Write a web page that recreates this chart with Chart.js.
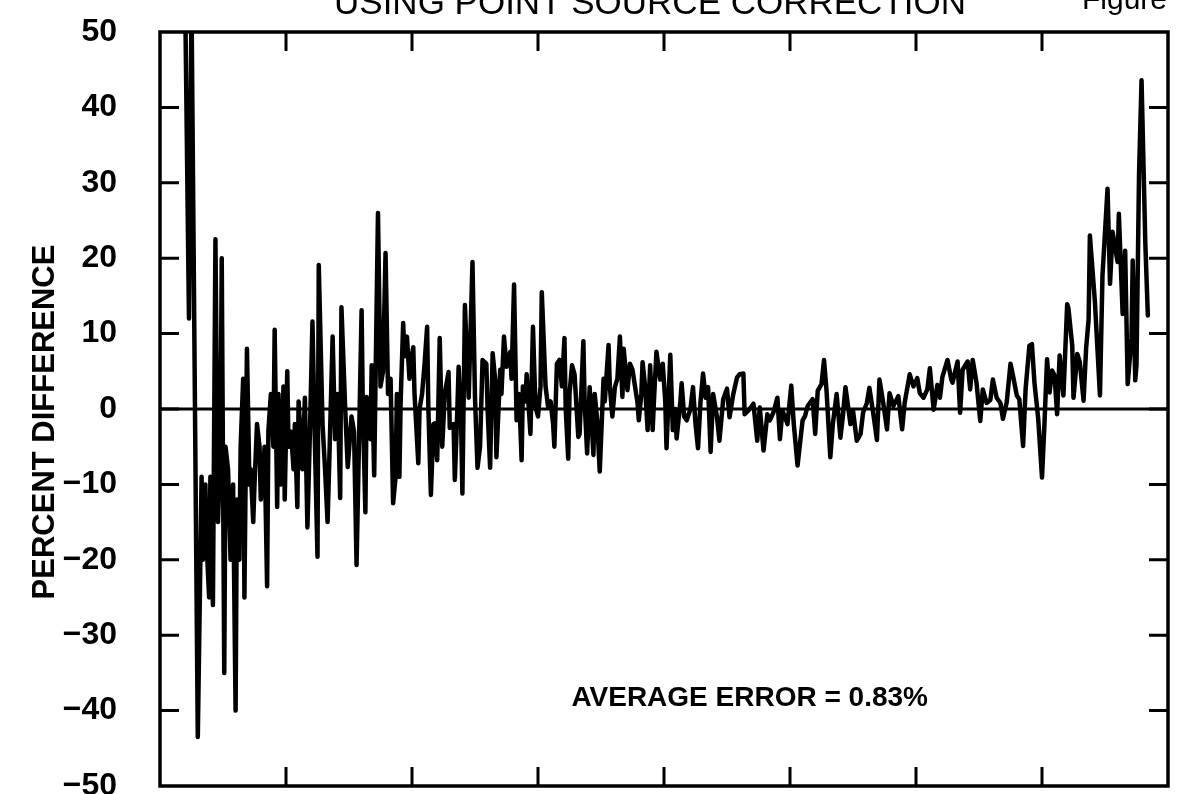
<!DOCTYPE html>
<html>
<head>
<meta charset="utf-8">
<script src="https://cdn.jsdelivr.net/npm/chart.js@4"></script>
<style>
  body { margin: 0; background: #fff; }
  canvas { display: block; }
</style>
</head>
<body>
<canvas id="chart" width="1178" height="794"></canvas>
<script>
// sample position along the (unlabelled) x axis, 0..800
const xPos = [
  20,23,25,30,33,34,36,37,39,40,42,44,46,48,49,51,52,54,56,58,60,61,63,64,66,67,69,71,72,74,75,77,79,80,82,83,85,86,88,90,91,93,94,96,98,99,101,102,104,106,107,109,110,
  113,115,117,119,121,123,125,126,129,131,133,135,137,139,141,143,144,147,149,152,154,156,160,161,163,164,167,168,170,171,173,175,177,179,181,183,185,187,188,190,191,193,194,196,198,199,201,202,205,206,208,210,212,213,215,217,218,220,222,
  224,226,229,230,233,234,236,237,239,240,242,244,245,248,250,252,254,256,259,260,262,264,266,267,270,271,273,275,278,279,281,283,285,287,288,290,291,294,296,298,300,302,303,306,308,310,312,313,315,317,319,321,322,324,325,327,329,332,333,336,
  337,339,341,344,345,347,349,352,353,356,357,359,361,363,365,367,368,371,373,375,377,379,380,382,383,385,387,389,391,392,394,397,399,401,402,405,407,409,410,413,414,416,418,421,423,425,427,429,431,433,435,437,439,442,
  444,447,450,452,455,458,460,463,464,467,471,474,476,479,482,484,487,490,492,494,498,501,503,506,510,512,514,518,520,522,525,527,529,532,534,537,540,542,544,548,550,553,556,
  558,561,563,566,569,571,574,577,579,582,586,589,591,595,598,601,603,606,609,611,614,617,619,621,625,628,629,633,635,637,641,643,645,648,651,653,656,659,661,664,667,
  669,672,675,677,680,682,685,687,690,692,694,697,700,702,704,706,708,710,712,714,717,720,721,724,725,728,730,733,735,737,738,742,746,748,752,754,756,760,761,764,766,768,771,772,774,775,777,779,782,784
];

// percent difference
const pctDiff = [
  54,12,54,-43.5,-9,-20,-10,-18,-25,-9,-26,22.5,-15,-5,20,-35,-5,-8,-20,-10,-40,-12,-20,-5,4,-25,8,-10,-8,-15,-10,-2,-5,-12,-8,-5,-23.5,-3,2,-5,10.5,-13,2,-10,3,-12,5,-5,-3,-8,-2,-13,1,
  -8,1.5,-15.7,-3,11.6,-5,-19.6,19.1,-2,-8,-15,-3,9.6,-4,2,-11.8,13.5,0,-7.7,-1,-3,-20.7,13.1,0,-13.7,1.6,-4,5.8,-8.8,3,26,3,5,20.7,2,4,-12.5,-9,2,-9,1,11.4,7,9.6,4,6,8.2,2,-7.2,0,2,6,10.9,0,-11.4,-2,-1.9,-6.8,9.4,
  -5,2,4.9,-2.5,-2,-9.4,0,5.6,-2,-11.2,13.8,5,1.5,19.5,1.5,-7.8,-5,6.5,6,0,-7.8,7.4,3.9,-6.4,5.2,2,9.6,5.6,7.6,4,16.5,-1.5,2,-6.8,3,1,4.6,-3.3,10.9,0.3,-1,3,15.5,3,0.3,1,-2,-5,6,6.5,3,9.4,0,-6.6,2,5.8,4.6,-3.7,-3.3,9,
  1,-5.9,2.9,-6.1,2,-1.5,-8.3,4,1,8.5,3,-1,2.9,4,9.6,1.6,8,2.5,6,5.2,3,0.8,-1.5,2,6.2,3,-2.8,5.8,-2.8,1,7.6,3.9,6,1,-5.2,7.2,-2.8,0,-3.9,1,3.4,-1,-1.5,0,2.9,-2,-5.2,1,4.7,1.5,2.9,-5.7,2,-1,
  -4.2,1.3,2.7,-1.1,2,4.2,4.6,4.7,-0.7,-0.2,0.7,-4.2,0.2,-5.5,-0.7,-1.5,-0.4,1.5,-4,-0.2,-2,3.1,-2,-7.5,-1.5,-0.9,0.4,1.3,-3.3,2.4,3.3,6.5,2.4,-6.4,-2,2,-3.8,-0.9,2.9,-2,-0.2,-4.2,-3.3,
  -0.5,0.8,2.8,-0.5,-4.1,3.9,0.8,-2.7,2.1,0.4,1.7,-2.7,0.8,4.6,3,4.1,2.1,1.5,2.6,5.4,-0.1,3.2,1.5,4.3,6.5,3.9,3.5,6.3,-0.5,5.2,6.3,2.6,6.5,3.5,-1.6,2.6,0.8,1.2,3.9,1.5,0.8,
  -1.3,0.9,6,4.4,1.8,1.3,-4.9,2.7,8.4,8.6,3.5,-1.3,-9.1,-1.8,6.6,2.2,5.1,4.4,-0.7,7.1,1.8,13.9,13.3,8.4,1.5,7.3,6.2,1.1,8,11.9,23,14.2,1.8,17.7,29.2,16.6,23.5,19.5,25.9,12.6,21,3.3,9.3,19.7,3.8,5.8,31,43.6,22,12.4
];

const yTicks = [-50, -40, -30, -20, -10, 0, 10, 20, 30, 40, 50];
const xTicks = [100, 200, 300, 400, 500, 600, 700];

const titleText = "USING POINT SOURCE CORRECTION";
const figText = "Figure";
const yTitle = "PERCENT DIFFERENCE";
const note = "AVERAGE ERROR = 0.83%";

const points = xPos.map((x, i) => ({ x: x, y: pctDiff[i] }));

// frame, inward ticks, zero line and the texts
const decor = {
  id: "decor",
  afterDraw(chart) {
    const ctx = chart.ctx;
    const a = chart.chartArea;
    const xs = chart.scales.x;
    const ys = chart.scales.y;
    ctx.save();
    ctx.strokeStyle = "#000";
    ctx.lineWidth = 3.5;
    ctx.lineCap = "butt";
    ctx.strokeRect(a.left, a.top, a.right - a.left, a.bottom - a.top);

    const y0 = ys.getPixelForValue(0);
    ctx.lineWidth = 3;
    ctx.beginPath();
    ctx.moveTo(a.left, y0);
    ctx.lineTo(a.right, y0);
    ctx.stroke();

    ctx.beginPath();
    yTicks.forEach(v => {
      if (v === -50 || v === 50) return;
      const py = ys.getPixelForValue(v);
      ctx.moveTo(a.left, py); ctx.lineTo(a.left + 19, py);
      ctx.moveTo(a.right, py); ctx.lineTo(a.right - 19, py);
    });
    xTicks.forEach(v => {
      const px = xs.getPixelForValue(v);
      ctx.moveTo(px, a.bottom); ctx.lineTo(px, a.bottom - 19);
      ctx.moveTo(px, a.top); ctx.lineTo(px, a.top + 19);
    });
    ctx.stroke();

    ctx.fillStyle = "#000";
    ctx.font = "35px 'Liberation Sans'";
    ctx.textAlign = "center";
    ctx.textBaseline = "alphabetic";
    ctx.fillText(titleText, 650, 14);
    ctx.font = "30px 'Liberation Sans'";
    ctx.textAlign = "left";
    ctx.fillText(figText, 1082, 9);

    ctx.font = "bold 28px 'Liberation Sans'";
    ctx.textAlign = "center";
    ctx.textBaseline = "middle";
    ctx.fillText(note, xs.getPixelForValue(468), ys.getPixelForValue(-38.4));

    ctx.translate(45, 422);
    ctx.rotate(-Math.PI / 2);
    ctx.font = "bold 31px 'Liberation Sans'";
    ctx.fillText(yTitle, 0, 0);
    ctx.restore();
  }
};

const config = {
  type: "line",
  data: {
    datasets: [
      {
        data: points,
        borderColor: "#000",
        borderWidth: 4.5,
        borderJoinStyle: "round",
        borderCapStyle: "round",
        pointRadius: 0,
        tension: 0,
        fill: false
      }
    ]
  },
  options: {
    responsive: false,
    animation: false,
    layout: { padding: { top: 32, right: 10, bottom: 8, left: 0 } },
    plugins: {
      legend: { display: false },
      tooltip: { enabled: false }
    },
    scales: {
      x: {
        type: "linear",
        min: 0,
        max: 800,
        display: false
      },
      y: {
        min: -50,
        max: 50,
        afterFit(scale) {
          scale.width = 160;
          scale.paddingTop = 0;
          scale.paddingBottom = 0;
        },
        afterBuildTicks(scale) { scale.ticks = yTicks.map(v => ({ value: v })); },
        grid: { display: false, drawTicks: false },
        border: { display: false },
        ticks: {
          padding: 43,
          color: "#000",
          font: { family: "'Liberation Sans'", size: 32, weight: "bold" },
          callback: v => (v < 0 ? "\u2212" + Math.abs(v) : String(v))
        }
      }
    }
  },
  plugins: [decor]
};

const myChart = new Chart(document.getElementById("chart"), config);
</script>
</body>
</html>
